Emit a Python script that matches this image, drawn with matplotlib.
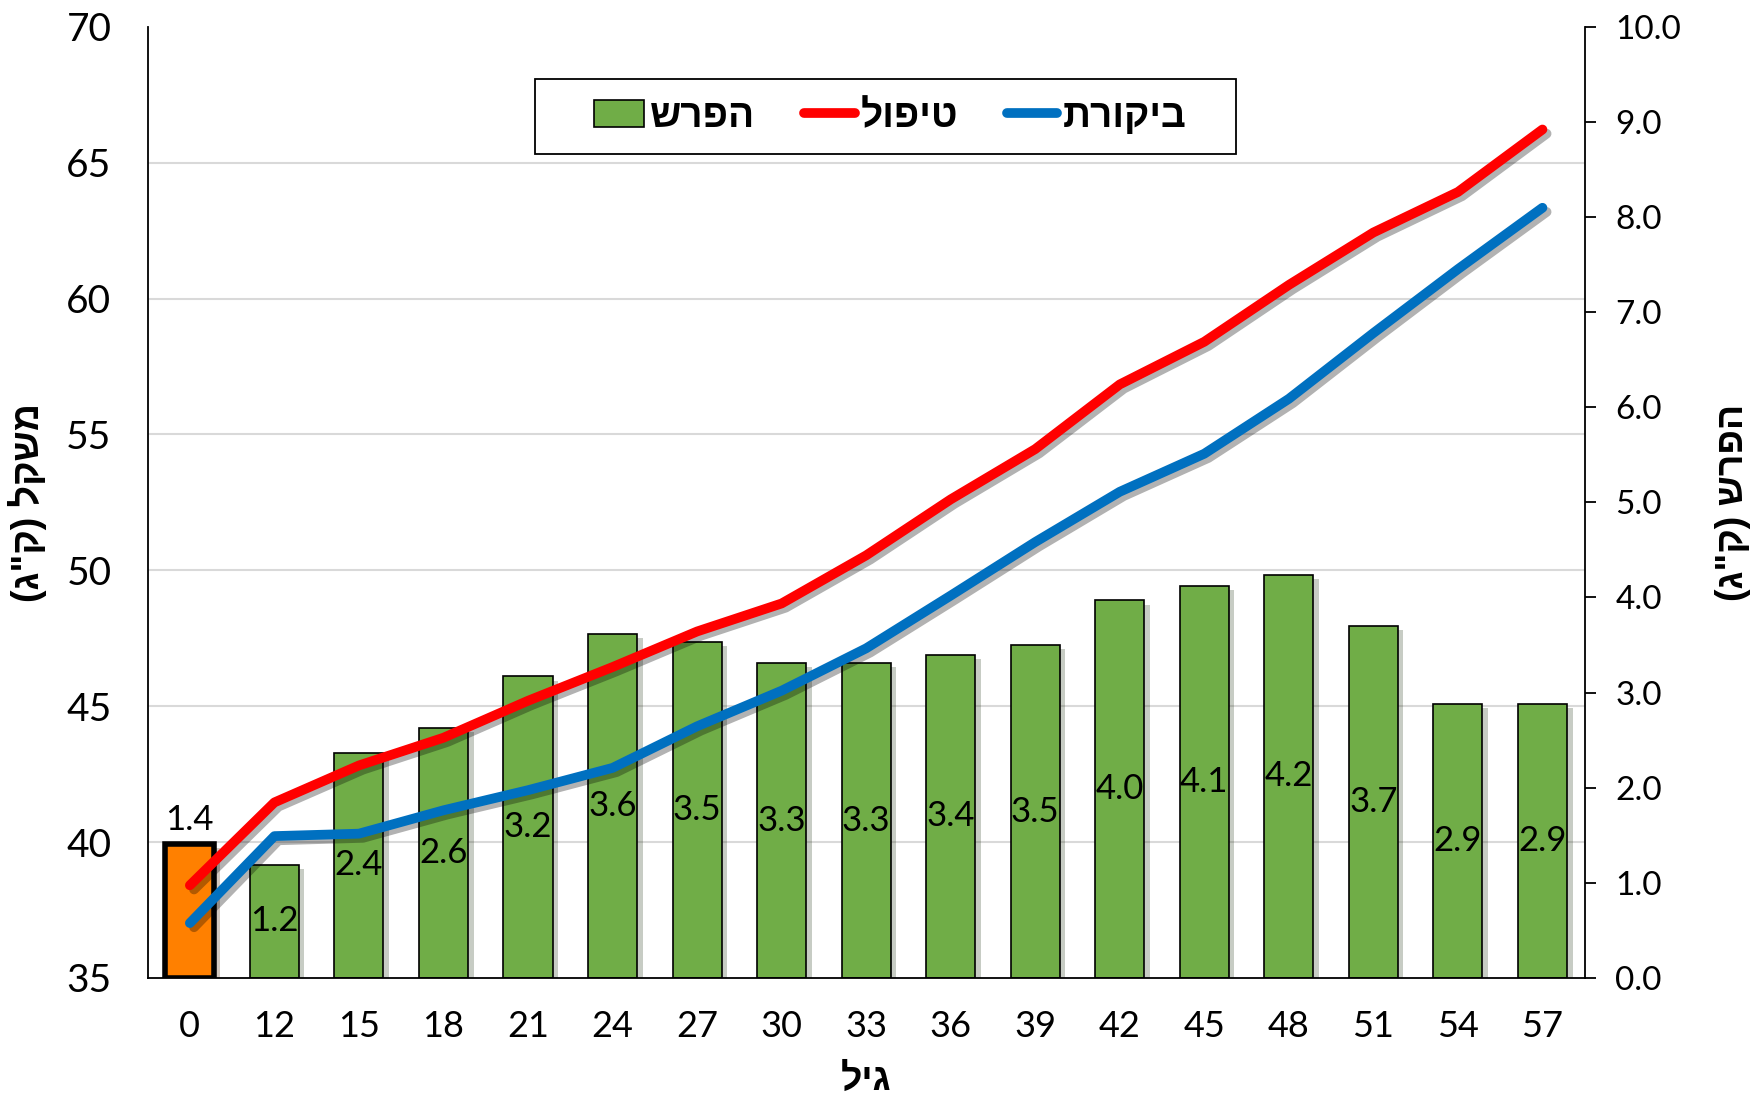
import matplotlib.pyplot as plt
from matplotlib.patches import Patch, Rectangle
from matplotlib.lines import Line2D
import matplotlib.patheffects as pe

# data
ages = ['0', '12', '15', '18', '21', '24', '27', '30', '33', '36', '39', '42', '45', '48', '51', '54', '57']
treatment = [38.41, 41.46, 42.82, 43.84, 45.20, 46.44, 47.75, 48.78, 50.55, 52.61,
             54.46, 56.84, 58.41, 60.50, 62.43, 63.92, 66.22]
control = [37.02, 40.22, 40.31, 41.17, 41.91, 42.73, 44.26, 45.57, 47.13, 49.07,
           51.04, 52.89, 54.29, 56.31, 58.73, 61.08, 63.34]
diff = [1.41, 1.19, 2.37, 2.63, 3.17, 3.62, 3.53, 3.31, 3.31, 3.40,
        3.50, 3.97, 4.12, 4.24, 3.70, 2.88, 2.88]


def heb(s):
    # matplotlib has no bidi: lay Hebrew out right-to-left by hand
    s = s[::-1]
    return s.translate(str.maketrans('()', ')('))


num_font = ['Lato', 'DejaVu Sans']
heb_font = ['Liberation Sans', 'DejaVu Sans']

fig = plt.figure(figsize=(17.53, 10.97), dpi=100, facecolor='white')
ax1 = fig.add_axes([0.0842, 0.1085, 0.8198, 0.8671])
ax2 = ax1.twinx()
ax1.set_zorder(2)
ax2.set_zorder(1)
ax1.patch.set_visible(False)

x = list(range(len(ages)))

# bars (right axis)
colors = ['#ff8000'] + ['#70ad47'] * (len(ages) - 1)
bars = ax2.bar(x, diff, width=0.58, color=colors, edgecolor='black', linewidth=1.2, zorder=3)
bars[0].set_linewidth(4)
for b in bars:
    b.set_path_effects([pe.SimplePatchShadow(offset=(4, -3), alpha=0.25), pe.Normal()])

labels = [f'{v:.1f}' for v in diff]
ax2.bar_label(bars, labels=[''] + labels[1:], label_type='center', fontsize=25,
              family=num_font, padding=0)
ax2.bar_label(bars, labels=[labels[0]] + [''] * (len(ages) - 1), label_type='edge',
              fontsize=25, family=num_font, padding=6)

# lines (left axis)
shadow = [pe.SimpleLineShadow(offset=(3, -3), alpha=0.3), pe.Normal()]
ax1.plot(x, treatment, color='#ff0000', lw=7, solid_capstyle='round', solid_joinstyle='round',
         path_effects=shadow)
ax1.plot(x, control, color='#0070c0', lw=7, solid_capstyle='round', solid_joinstyle='round',
         path_effects=shadow)

ax1.set_xlim(-0.5, len(ages) - 0.5)
ax1.set_ylim(35, 70)
ax2.set_ylim(0, 10)
ax1.set_yticks(range(35, 71, 5))
ax2.set_yticks(range(0, 11))
ax2.set_yticklabels([f'{v:.1f}' for v in range(0, 11)])
ax1.set_xticks(x)
ax1.set_xticklabels(ages)

# gridlines drawn on the bar axis so they sit behind the bars
grid_pos = [(t - 35) / (70 - 35) * 10 for t in range(40, 71, 5)]
ax2.set_yticks(grid_pos, minor=True)
ax2.tick_params(axis='y', which='minor', length=0)
ax2.grid(axis='y', which='minor', color='#d9d9d9', lw=1.5, zorder=0)
ax2.set_axisbelow(True)

ax1.spines['top'].set_visible(False)
ax2.spines['top'].set_visible(False)
ax1.spines['right'].set_visible(False)
ax2.spines['left'].set_visible(False)
for sp in ['left', 'bottom']:
    ax1.spines[sp].set_color('black')
    ax1.spines[sp].set_linewidth(1.3)
ax2.spines['right'].set_linewidth(1.3)
ax2.spines['bottom'].set_visible(False)

ax1.tick_params(axis='y', length=0, pad=26, labelsize=28)
ax1.tick_params(axis='x', length=0, pad=23, labelsize=26)
ax2.tick_params(axis='y', which='major', direction='out', length=8, width=1.3, pad=14, labelsize=24)
for lab in ax1.get_yticklabels() + ax1.get_xticklabels() + ax2.get_yticklabels():
    lab.set_family(num_font)

ax1.set_ylabel(heb('משקל (ק"ג)'), family=heb_font, fontweight='bold', fontsize=27)
ax1.yaxis.set_label_coords(-0.070, 0.5)
ax2.set_ylabel(heb('הפרש (ק"ג)'), family=heb_font, fontweight='bold', fontsize=27, rotation=90)
ax2.yaxis.set_label_coords(1.091, 0.5)
ax1.set_xlabel(heb('גיל'), family=heb_font, fontweight='bold', fontsize=27)
ax1.xaxis.set_label_coords(0.5, -0.088)

# legend: own frame box, entries laid out without frame
ax1.add_patch(Rectangle((0.2695, 0.8662), 0.4877, 0.0789, transform=ax1.transAxes,
                        facecolor='white', edgecolor='black', lw=1.3, zorder=4))
handles = [
    Patch(facecolor='#70ad47', edgecolor='black', linewidth=1.2),
    Line2D([], [], color='#ff0000', lw=7, solid_capstyle='round'),
    Line2D([], [], color='#0070c0', lw=7, solid_capstyle='round'),
]
names = [heb('הפרש'), heb('טיפול'), heb('ביקורת')]
leg = ax1.legend(handles, names, ncol=3, loc='center', bbox_to_anchor=(0.5168, 0.9054),
                 frameon=False, prop={'family': heb_font, 'weight': 'bold', 'size': 28},
                 handlelength=1.3, handletextpad=0.15, columnspacing=1.25,
                 borderpad=0.3)
leg.set_zorder(5)

fig.savefig('out.png', dpi=100, facecolor='white')
